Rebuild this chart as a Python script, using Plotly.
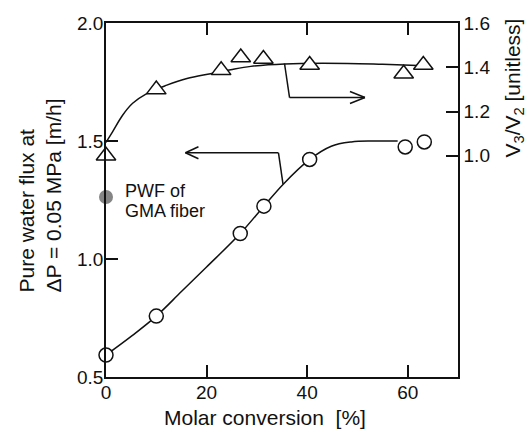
import plotly.graph_objects as go

# ---------------- data ----------------
# Pure water flux (left axis), open circles
conv_pwf = [0.0, 10.0, 26.7, 31.4, 40.5, 59.5, 63.3]
pwf = [0.593, 0.758, 1.108, 1.224, 1.422, 1.475, 1.496]

# V3/V2 (right axis), open triangles
conv_ratio = [0.0, 10.0, 22.9, 26.8, 31.3, 40.5, 59.2, 63.1]
ratio = [1.00, 1.299, 1.386, 1.444, 1.437, 1.41, 1.371, 1.41]

# PWF of GMA fiber (grey dot)
gma_x = [0.0]
gma_y = [1.263]

# smooth guide curves
fit_pwf_x = [0.0, 5.0, 10.0, 15.0, 20.0, 26.7, 31.4, 35.2, 40.5, 44.8, 48.8, 53.0, 58.0]
fit_pwf_y = [0.593, 0.672, 0.758, 0.862, 0.966, 1.108, 1.224, 1.316, 1.422, 1.478, 1.496, 1.500, 1.500]

fit_ratio_x = [0.0, 1.3, 3.3, 5.3, 8.1, 12.1, 16.1, 20.8, 24.8, 28.8, 35.5, 48.0, 55.0, 62.0]
fit_ratio_y = [1.06, 1.108, 1.183, 1.237, 1.281, 1.319, 1.349, 1.371, 1.389, 1.404, 1.415, 1.417, 1.413, 1.408]

x_ticks = [0, 20, 40, 60]
y_ticks = [0.5, 1.0, 1.5, 2.0]
y2_ticks = [1.0, 1.2, 1.4, 1.6]

# ---------------- styling ----------------
FONT = "Liberation Sans, Arial, Helvetica, sans-serif"
INK = "#111111"
LW = 1.5
W, H = 532, 431
ML, MR, MT, MB = 106, 74, 23, 54
PW, PH = W - ML - MR, H - MT - MB


def px(xpix):
    return (xpix - ML) / PW


def py(ypix):
    return (H - MB - ypix) / PH


fig = go.Figure()

fig.add_trace(go.Scatter(x=fit_pwf_x, y=fit_pwf_y, mode="lines",
                         line=dict(color=INK, width=LW, shape="spline"),
                         yaxis="y", showlegend=False, hoverinfo="skip"))
fig.add_trace(go.Scatter(x=fit_ratio_x, y=fit_ratio_y, mode="lines",
                         line=dict(color=INK, width=LW, shape="spline"),
                         yaxis="y2", showlegend=False, hoverinfo="skip"))

fig.add_trace(go.Scatter(x=conv_pwf, y=pwf, mode="markers", yaxis="y",
                         marker=dict(symbol="circle", size=14, color="white",
                                     line=dict(color=INK, width=LW)),
                         cliponaxis=False, showlegend=False))
fig.add_trace(go.Scatter(x=conv_ratio, y=ratio, mode="markers", yaxis="y2",
                         marker=dict(symbol="triangle-up", size=17, color="white",
                                     line=dict(color=INK, width=LW)),
                         cliponaxis=False, showlegend=False))
fig.add_trace(go.Scatter(x=gma_x, y=gma_y, mode="markers", yaxis="y",
                         marker=dict(symbol="circle", size=14, color="#858585"),
                         cliponaxis=False, showlegend=False))

# ---------------- pointer arrows ----------------
arrow_left = [(15.8, 1.45), (34.3, 1.45), (35.2, 1.317)]      # on left axis
arrow_right = [(35.5, 1.417), (36.5, 1.263), (51.5, 1.263)]   # on right axis

shapes = []


def polyline(pts, yref):
    for (x0, y0), (x1, y1) in zip(pts[:-1], pts[1:]):
        shapes.append(dict(type="line", xref="x", yref=yref, x0=x0, y0=y0, x1=x1, y1=y1,
                           line=dict(color=INK, width=LW)))


def chevron(tip, yref, dx):
    for dy in (6, -6):
        shapes.append(dict(type="line", xref="x", yref=yref,
                           xsizemode="pixel", xanchor=tip[0], x0=0, x1=dx,
                           ysizemode="pixel", yanchor=tip[1], y0=0, y1=dy,
                           line=dict(color=INK, width=LW)))


polyline(arrow_left, "y")
chevron(arrow_left[0], "y", 13)
polyline(arrow_right, "y2")
chevron(arrow_right[-1], "y2", -15)

annotations = [
    dict(text="PWF of", x=3.4, y=1.29, xref="x", yref="y", xanchor="left", yanchor="middle",
         showarrow=False, font=dict(family=FONT, size=18, color=INK)),
    dict(text="GMA fiber", x=3.4, y=1.203, xref="x", yref="y", xanchor="left", yanchor="middle",
         showarrow=False, font=dict(family=FONT, size=18, color=INK)),
    dict(text="Pure water flux at<br>ΔP = 0.05 MPa [m/h]", textangle=-90, align="left",
         x=px(39), y=py(195.5), xref="paper", yref="paper", xanchor="center", yanchor="middle",
         showarrow=False, font=dict(family=FONT, size=21, color=INK)),
    dict(text="V<sub>3</sub>/V<sub>2</sub> [unitless]", textangle=-90,
         x=px(513), y=py(88.5), xref="paper", yref="paper", xanchor="center", yanchor="middle",
         showarrow=False, font=dict(family=FONT, size=21, color=INK)),
    dict(text="Molar conversion  [%]",
         x=px(264.5), y=py(417), xref="paper", yref="paper", xanchor="center", yanchor="middle",
         showarrow=False, font=dict(family=FONT, size=21, color=INK)),
]

axis_common = dict(showgrid=False, zeroline=False, showline=True, linecolor=INK, linewidth=LW,
                   ticks="inside", ticklen=12, tickwidth=LW, tickcolor=INK,
                   tickfont=dict(family=FONT, size=19, color=INK))

fig.update_layout(
    width=W, height=H,
    margin=dict(l=ML, r=MR, t=MT, b=MB, pad=0),
    paper_bgcolor="white", plot_bgcolor="white",
    font=dict(family=FONT, color=INK),
    xaxis=dict(range=[0, 70], tickvals=x_ticks, mirror="ticks", ticklabelstandoff=-3, **axis_common),
    yaxis=dict(range=[0.5, 2.0], tickvals=y_ticks, tickformat=".1f", ticklabelstandoff=-3,
               **axis_common),
    yaxis2=dict(range=[0, 1.6], tickvals=y2_ticks, tickformat=".1f", overlaying="y", side="right",
                **axis_common),
    shapes=shapes,
    annotations=annotations,
)

fig.write_html("out.html")
